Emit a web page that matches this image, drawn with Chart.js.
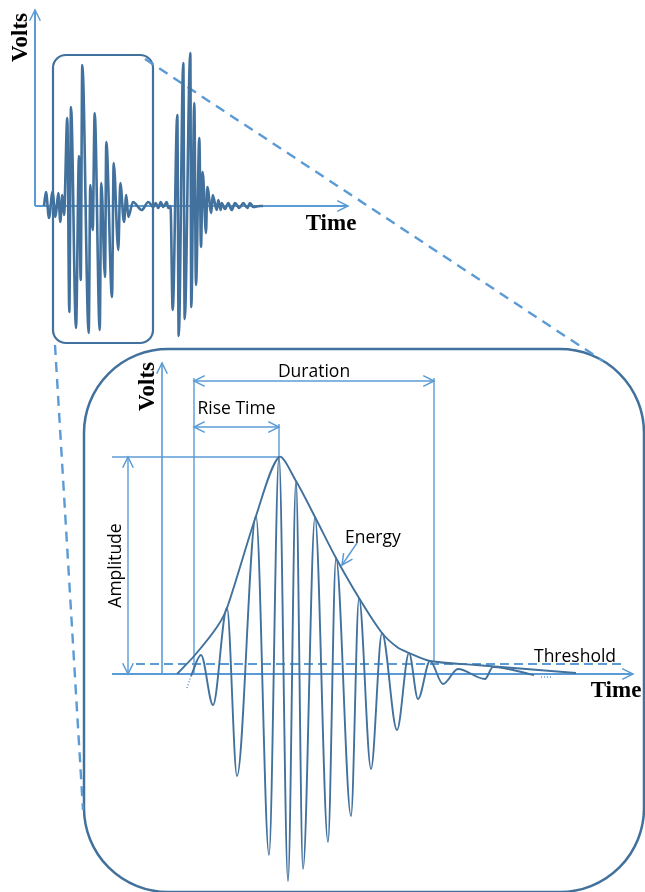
<!DOCTYPE html>
<html>
<head>
<meta charset="utf-8">
<script src="https://cdn.jsdelivr.net/npm/chart.js@4.4.1/dist/chart.umd.min.js"></script>
<style>
  html, body { margin: 0; padding: 0; background: #fff; }
  #wrap { position: relative; width: 645px; height: 892px; }
</style>
</head>
<body>
<div id="wrap"><canvas id="ae"></canvas></div>
<script>
// --- top panel: two bursts, time / volts measured from the axis cross
const topTime = [9, 11, 14, 17.5, 20.5, 23.3, 25.3, 27.3, 29,
  32.3, 34.3, 36, 41, 44, 45.7, 47.3, 53.7, 55.3, 57.7, 59.7, 64.7, 66.3, 70, 71.3, 77, 78.7,
  83.3, 85.3, 89, 91.3, 93.3, 98, 106.7, 113.3, 118.3, 120.7, 123.3, 125.7, 128.3, 131.7, 133.3, 135.5,
  137.7, 142.3, 143.7, 148.3, 149.7, 155.3, 156.3, 159.3, 161, 164.3, 166, 167.7, 171, 172.3,
  176.3, 177.7, 181.7, 183.3, 185.7, 186.7, 190, 193.3, 196.7, 200, 204.3, 208.3, 212.3, 215, 218.3, 225, 228];
const topVolts = [0, 14, -12, 14, -11, 13, -16, 11, -9,
  88, -106, 99, -122, 50, -74, 141, -127, 21, -24, 93, -124, 23, -71, 64, -91, 43,
  -44, 23, -16, 11, -11, 4, -4, 4, -1, 3, -2, 4, -1, 4, -2, 0,
  -104, 91, -130, 143, -113, 153, -101, 103, -79, 68, -41, 34, -27, 19,
  -7, 11, -4, 6, -4, 3, -3, 3, -4, 3, -2, 3, -2, 3, -1, 0, 0];
// zoom window drawn round the first burst (top units)
const zoomTime = [18, 118];
const zoomVolts = [151, -137];

// --- bottom panel: one hit, time / volts from the axis cross
const hitTime = [29, 39, 51, 65, 75, 94, 107, 117, 126, 134, 141, 153, 166, 174, 189, 197,
  209, 220, 235, 247, 256, 268, 281, 296, 323, 331, 372];
const hitVolts = [-2, 19, -31, 66, -102, 158, -181, 217, -207, 193, -195, 157, -168, 116, -142, 76,
  -95, 41, -56, 21, -25, 13, -10, 5, -5, 7, -1];
const envTime = [15, 33, 55, 65, 94, 117, 134, 153, 174, 197, 220, 235, 247, 268, 314, 414];
const envVolts = [0, 19, 47, 66, 158, 217, 193, 157, 116, 76, 41, 27, 21, 13, 9, 1];

// hit features
const threshold = 10;
const riseStart = 32;    // first threshold crossing
const peakTime = 117;
const peakVolts = 217;
const durEnd = 272;      // last threshold crossing
const energyAt = [180, 109];

const W = 645, H = 892;
const topOrigin = { x: 35, y: 206 };
const botOrigin = { x: 162, y: 674 };

const DARK = '#41719c';
const LIGHT = '#5b9bd5';

const pts = (xs, ys) => xs.map((x, i) => ({ x, y: ys[i] }));

function seg(xs, ys, opt = {}) {
  return Object.assign({
    data: pts(xs, ys),
    xAxisID: 'xB', yAxisID: 'yB',
    showLine: true, pointRadius: 0, tension: 0,
    borderColor: LIGHT, borderWidth: 1.4, fill: false,
  }, opt);
}

const riseLevel = 247, durLevel = 293;

const datasets = [
  seg(topTime, topVolts, { xAxisID: 'xT', yAxisID: 'yT', borderColor: DARK, borderWidth: 2.6,
    cubicInterpolationMode: 'monotone' }),
  seg(hitTime, hitVolts, { borderColor: DARK, borderWidth: 1.9, cubicInterpolationMode: 'monotone' }),
  seg(envTime, envVolts, { borderColor: DARK, borderWidth: 1.9, tension: 0.3 }),
  seg([25, 29], [-14, -2], { borderColor: LIGHT, borderWidth: 1.5, borderDash: [1, 2] }),
  seg([379, 390], [-3, -3], { borderColor: LIGHT, borderWidth: 1.5, borderDash: [1, 2] }),
  // top axes
  seg([0, 0], [0, 196], { xAxisID: 'xT', yAxisID: 'yT', borderWidth: 2, arrow: 'end' }),
  seg([0, 313], [0, 0], { xAxisID: 'xT', yAxisID: 'yT', borderWidth: 2, arrow: 'end' }),
  // bottom axes and threshold
  seg([0, 0], [0, 311], { borderWidth: 1.6, arrow: 'end' }),
  seg([-50, 471], [0, 0], { borderWidth: 2, arrow: 'end' }),
  seg([-26, 460], [threshold, threshold], { borderWidth: 2, borderDash: [9, 5] }),
  // amplitude
  seg([-50, peakTime], [peakVolts, peakVolts]),
  seg([-34, -34], [0, peakVolts], { arrow: 'both' }),
  // rise time and duration
  seg([riseStart, riseStart], [0, durLevel + 3]),
  seg([peakTime, peakTime], [peakVolts, riseLevel + 3]),
  seg([riseStart, peakTime], [riseLevel, riseLevel], { arrow: 'both' }),
  seg([riseStart, durEnd], [durLevel, durLevel], { arrow: 'both' }),
  seg([durEnd, durEnd], [threshold + 2, durLevel + 3]),
  // energy pointer
  seg([energyAt[0] + 15, energyAt[0]], [energyAt[1] + 22, energyAt[1]], { arrow: 'end' }),
];

function chevron(ctx, from, to) {
  const a = Math.atan2(to.y - from.y, to.x - from.x);
  const len = 12, half = 0.46;
  ctx.beginPath();
  ctx.moveTo(to.x - len * Math.cos(a - half), to.y - len * Math.sin(a - half));
  ctx.lineTo(to.x, to.y);
  ctx.lineTo(to.x - len * Math.cos(a + half), to.y - len * Math.sin(a + half));
  ctx.stroke();
}

function roundBox(ctx, x0, y0, x1, y1, r) {
  ctx.beginPath();
  ctx.moveTo(x0 + r, y0);
  ctx.lineTo(x1 - r, y0);
  ctx.arcTo(x1, y0, x1, y0 + r, r);
  ctx.lineTo(x1, y1 - r);
  ctx.arcTo(x1, y1, x1 - r, y1, r);
  ctx.lineTo(x0 + r, y1);
  ctx.arcTo(x0, y1, x0, y1 - r, r);
  ctx.lineTo(x0, y0 + r);
  ctx.arcTo(x0, y0, x0 + r, y0, r);
  ctx.closePath();
  ctx.stroke();
}

function text(ctx, str, x, y, font, align, rotate) {
  ctx.save();
  ctx.font = font;
  ctx.fillStyle = '#000';
  ctx.textAlign = align || 'center';
  ctx.textBaseline = 'alphabetic';
  ctx.translate(x, y);
  if (rotate) ctx.rotate(-Math.PI / 2);
  ctx.fillText(str, 0, 0);
  ctx.restore();
}

const figure = {
  id: 'figure',
  beforeDatasetsDraw(chart) {
    const { ctx, scales: s } = chart;
    const tx = v => s.xT.getPixelForValue(v), ty = v => s.yT.getPixelForValue(v);
    const bx = v => s.xB.getPixelForValue(v), by = v => s.yB.getPixelForValue(v);
    ctx.save();
    ctx.strokeStyle = DARK;
    ctx.lineWidth = 2.2;
    roundBox(ctx, tx(zoomTime[0]), ty(zoomVolts[0]), tx(zoomTime[1]), ty(zoomVolts[1]), 13);
    ctx.lineWidth = 2.5;
    roundBox(ctx, bx(-78), by(325), bx(482), by(-218), 84);
    // connectors from zoom window to the enlarged view
    ctx.strokeStyle = LIGHT;
    ctx.setLineDash([10, 7]);
    ctx.lineWidth = 2.4;
    ctx.beginPath();
    ctx.moveTo(tx(zoomTime[1] - 8), ty(zoomVolts[0] - 4));
    ctx.lineTo(bx(441), by(313));
    ctx.moveTo(tx(zoomTime[0] + 2), ty(zoomVolts[1] - 2));
    ctx.lineTo(bx(-79), by(-136));
    ctx.stroke();
    ctx.restore();
  },
  afterDatasetsDraw(chart) {
    const { ctx, scales: s } = chart;
    ctx.save();
    chart.data.datasets.forEach(ds => {
      if (!ds.arrow) return;
      const xs = s[ds.xAxisID], ys = s[ds.yAxisID];
      const p = ds.data.map(d => ({ x: xs.getPixelForValue(d.x), y: ys.getPixelForValue(d.y) }));
      ctx.strokeStyle = ds.borderColor;
      ctx.lineWidth = 1.5;
      chevron(ctx, p[0], p[1]);
      if (ds.arrow === 'both') chevron(ctx, p[1], p[0]);
    });
    ctx.restore();

    const tx = v => s.xT.getPixelForValue(v), ty = v => s.yT.getPixelForValue(v);
    const bx = v => s.xB.getPixelForValue(v), by = v => s.yB.getPixelForValue(v);
    const serif = 'bold 23px "Liberation Serif", "Times New Roman", serif';
    const sans = '17.5px "Open Sans", "Noto Sans", sans-serif';
    text(ctx, 'Volts', tx(-8.5), ty(168.5), serif, 'center', true);
    text(ctx, 'Time', tx(296), ty(-24), serif, 'center');
    text(ctx, 'Volts', bx(-8.5), by(287.5), serif, 'center', true);
    text(ctx, 'Time', bx(454), by(-23), serif, 'center');
    text(ctx, 'Duration', bx((riseStart + durEnd) / 2), by(durLevel + 4), sans, 'center');
    text(ctx, 'Rise Time', bx((riseStart + peakTime) / 2), by(riseLevel + 13), sans, 'center');
    text(ctx, 'Energy', bx(183), by(131), sans, 'left');
    text(ctx, 'Threshold', bx(372), by(threshold + 2), sans, 'left');
    text(ctx, 'Amplitude', bx(-41), by(peakVolts / 2), sans, 'center', true);
  }
};

new Chart(document.getElementById('ae'), {
  type: 'scatter',
  data: { datasets },
  options: {
    responsive: true,
    maintainAspectRatio: false,
    animation: false,
    layout: { padding: 0 },
    events: [],
    scales: {
      xT: { type: 'linear', display: false, min: -topOrigin.x, max: W - topOrigin.x },
      yT: { type: 'linear', display: false, min: topOrigin.y - H, max: topOrigin.y },
      xB: { type: 'linear', display: false, min: -botOrigin.x, max: W - botOrigin.x },
      yB: { type: 'linear', display: false, min: botOrigin.y - H, max: botOrigin.y },
    },
    plugins: { legend: { display: false }, tooltip: { enabled: false } },
  },
  plugins: [figure],
});
</script>
</body>
</html>
